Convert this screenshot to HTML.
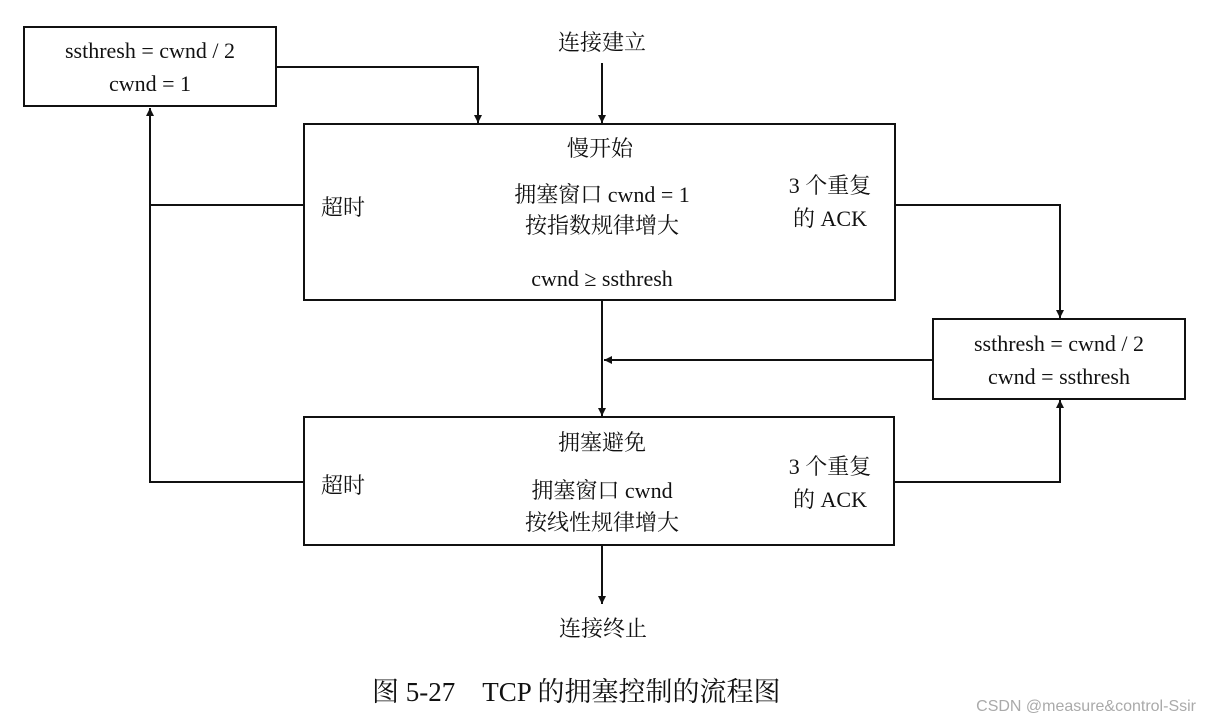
<!DOCTYPE html>
<html><head><meta charset="utf-8"><style>
html,body{margin:0;padding:0;background:#fff;}
svg text{font-family:"Liberation Serif","Noto Serif CJK SC",serif;fill:#111;}
</style></head><body>
<svg width="1209" height="720" viewBox="0 0 1209 720" xmlns="http://www.w3.org/2000/svg">
<defs><marker id="a" viewBox="0 0 10 10" refX="10" refY="5" markerWidth="8" markerHeight="11" markerUnits="userSpaceOnUse" orient="auto"><path d="M0,0 L10,5 L0,10 z" fill="#111"/></marker></defs>
<g stroke="#111" stroke-width="2" fill="none">
<rect x="24" y="27" width="252" height="79"/>
<rect x="304" y="124" width="591" height="176"/>
<rect x="933" y="319" width="252" height="80"/>
<rect x="304" y="417" width="590" height="128"/>
<path d="M276,67 H478 V123" marker-end="url(#a)"/>
<path d="M602,63 V123" marker-end="url(#a)"/>
<path d="M304,482 H150 V108" marker-end="url(#a)"/>
<path d="M304,205 H150"/>
<path d="M895,205 H1060 V318" marker-end="url(#a)"/>
<path d="M933,360 H604" marker-end="url(#a)"/>
<path d="M602,300 V416" marker-end="url(#a)"/>
<path d="M894,482 H1060 V400" marker-end="url(#a)"/>
<path d="M602,545 V604" marker-end="url(#a)"/>
</g>
<g font-size="22" text-anchor="middle">
<text x="150" y="58">ssthresh = cwnd / 2</text>
<text x="150" y="91">cwnd = 1</text>
<text x="602" y="50">连接建立</text>
<text x="600" y="156">慢开始</text>
<text x="602" y="202">拥塞窗口 cwnd = 1</text>
<text x="602" y="233">按指数规律增大</text>
<text x="602" y="286">cwnd ≥ ssthresh</text>
<text x="830" y="193">3 个重复</text>
<text x="830" y="226">的 ACK</text>
<text x="343" y="215">超时</text>
<text x="1059" y="351">ssthresh = cwnd / 2</text>
<text x="1059" y="384">cwnd = ssthresh</text>
<text x="602" y="450">拥塞避免</text>
<text x="602" y="498">拥塞窗口 cwnd</text>
<text x="602" y="530">按线性规律增大</text>
<text x="830" y="474">3 个重复</text>
<text x="830" y="507">的 ACK</text>
<text x="343" y="493">超时</text>
<text x="603" y="636">连接终止</text>
</g>
<text x="372" y="701" font-size="27">图 5-27　TCP 的拥塞控制的流程图</text>
<text x="1196" y="711" font-size="16" text-anchor="end" style="font-family:'Liberation Sans',sans-serif;fill:#aaa">CSDN @measure&amp;control-Ssir</text>
</svg>
</body></html>
